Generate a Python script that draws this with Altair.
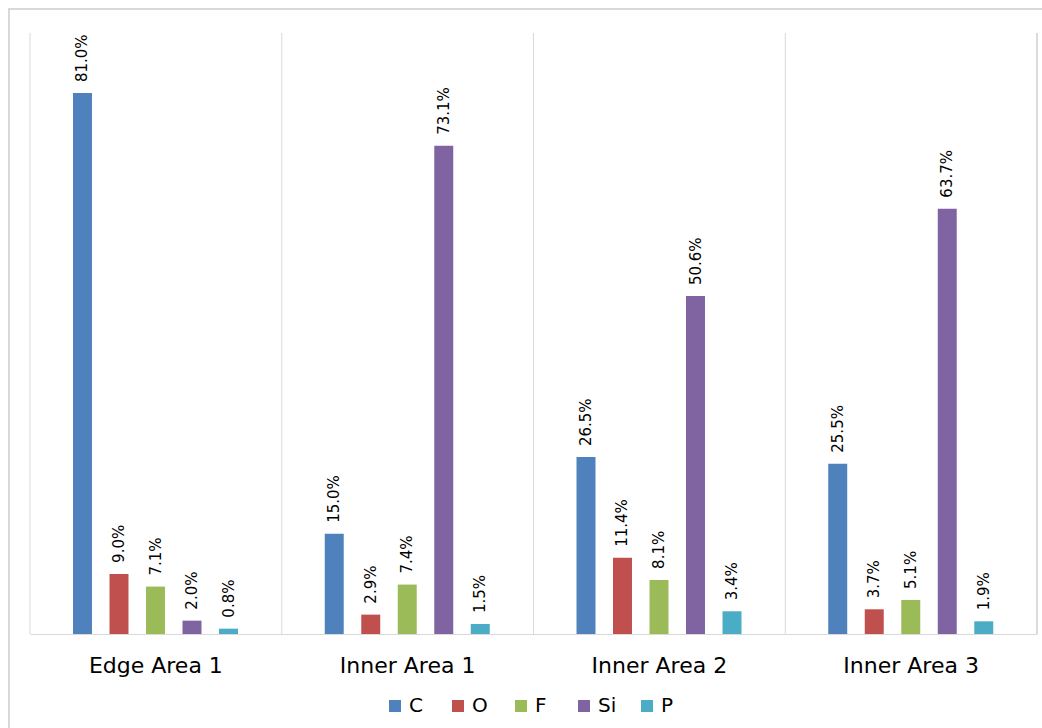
import altair as alt
import pandas as pd

groups = ["Edge Area 1", "Inner Area 1", "Inner Area 2", "Inner Area 3"]
elements = ["C", "O", "F", "Si", "P"]
colors = ["#4F81BD", "#C0504D", "#9BBB59", "#8064A2", "#4BACC6"]

c_vals = [81.0, 15.0, 26.5, 25.5]
o_vals = [9.0, 2.9, 11.4, 3.7]
f_vals = [7.1, 7.4, 8.1, 5.1]
si_vals = [2.0, 73.1, 50.6, 63.7]
p_vals = [0.8, 1.5, 3.4, 1.9]

series = {"C": c_vals, "O": o_vals, "F": f_vals, "Si": si_vals, "P": p_vals}
rows = []
for el in elements:
    for g, v in zip(groups, series[el]):
        rows.append({"group": g, "element": el, "value": v})
df = pd.DataFrame(rows)
grid_df = pd.DataFrame({"group": groups})

W, H = 1007, 601
FONT = "DejaVu Sans"
GRID = "#d9d9d9"

x_scale = alt.Scale(paddingInner=0, paddingOuter=0)
x_enc = alt.X(
    "group:N",
    sort=groups,
    scale=x_scale,
    axis=alt.Axis(
        title=None,
        bandPosition=0.5,
        labelAngle=0,
        labelAlign="center",
        labelBaseline="alphabetic",
        labelFont=FONT,
        labelFontSize=22,
        labelColor="#000000",
        ticks=False,
        domainColor=GRID,
        domainWidth=1,
        labelPadding=38,
        grid=False,
    ),
)
xoff = alt.XOffset(
    "element:N",
    sort=elements,
    scale=alt.Scale(range=[43, 208], paddingInner=0.48, paddingOuter=0),
)
y_enc = alt.Y("value:Q", scale=alt.Scale(domain=[0, 90]), axis=None)

base = alt.Chart(df)

bars = base.mark_bar().encode(
    x=x_enc,
    xOffset=xoff,
    y=y_enc,
    color=alt.Color(
        "element:N",
        sort=elements,
        scale=alt.Scale(domain=elements, range=colors),
        legend=alt.Legend(
            title=None,
            orient="none",
            direction="horizontal",
            legendX=355,
            legendY=663,
            symbolType="square",
            symbolSize=144,
            symbolStrokeWidth=0,
            labelFont=FONT,
            labelFontSize=20,
            labelColor="#000000",
            columnPadding=20,
            labelOffset=4,
            gridAlign="all",
        ),
    ),
)

labels = base.mark_text(
    angle=270, align="left", baseline="middle", dx=11, font=FONT, fontSize=15, color="#000000"
).transform_calculate(
    label="format(datum.value, '.1f') + '%'"
).encode(
    x=alt.X("group:N", sort=groups, scale=x_scale),
    xOffset=xoff,
    y=y_enc,
    text="label:N",
)

# Vertical separators at the start of each category band
grid = alt.Chart(grid_df).mark_rule(color=GRID, strokeWidth=1).encode(
    x=alt.X("group:N", sort=groups, scale=x_scale, bandPosition=0),
    y=alt.value(0),
    y2=alt.value(H),
)
right_edge = alt.Chart(grid_df).mark_rule(color=GRID, strokeWidth=1).encode(
    x=alt.value(W), y=alt.value(0), y2=alt.value(H)
)
frame = alt.Chart(grid_df).mark_rect(fill=None, stroke=GRID, strokeWidth=1.5).encode(
    x=alt.value(-21), x2=alt.value(1030), y=alt.value(-24), y2=alt.value(720)
)

chart = alt.layer(frame, grid, right_edge, bars, labels).properties(
    width=W,
    height=H,
    autosize=alt.AutoSizeParams(type="none"),
    padding={"left": 30, "top": 33, "right": 5, "bottom": 94},
    background="white",
).configure_view(stroke=None)

chart.save("out.html", embed_options={"renderer": "svg", "actions": False})
